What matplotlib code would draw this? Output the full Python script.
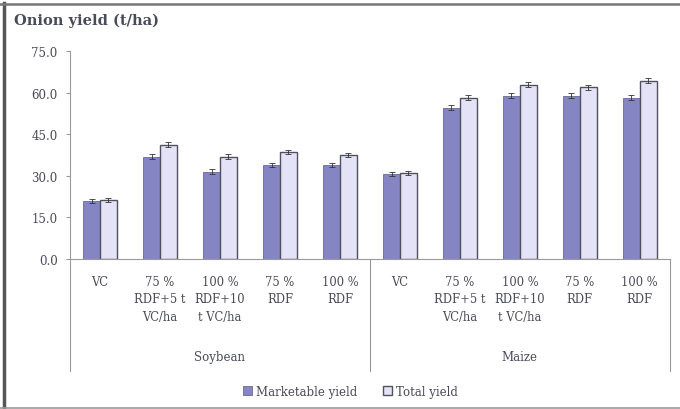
import numpy as np
import matplotlib
matplotlib.use("Agg")
import matplotlib.pyplot as plt
from matplotlib.lines import Line2D
from matplotlib.transforms import blended_transform_factory

# data
groups = ["Soybean", "Maize"]
treatments = ["VC", "75 %\nRDF+5 t\nVC/ha", "100 %\nRDF+10\nt VC/ha", "75 %\nRDF", "100 %\nRDF"]
marketable = [20.9, 36.8, 31.4, 33.9, 33.9, 30.7, 54.5, 58.8, 58.8, 58.1]
total = [21.3, 41.2, 36.8, 38.6, 37.5, 31.0, 58.1, 62.8, 62.0, 64.3]
marketable_err = [0.8, 0.9, 0.9, 0.8, 0.8, 0.7, 0.9, 0.9, 0.9, 0.9]
total_err = [0.8, 0.9, 0.9, 0.8, 0.8, 0.7, 0.9, 0.9, 0.9, 0.9]
y_ticks = [0, 15, 30, 45, 60, 75]

text_col = "#4a4a5a"
plt.rcParams['font.family'] = ['DejaVu Serif']

fig = plt.figure(figsize=(6.8, 4.1), dpi=100)
ax = fig.add_axes([0.103, 0.366, 0.882, 0.507])

n = len(marketable)
x = np.arange(n)
w = 0.28
ax.bar(x - w / 2, marketable, w, color="#8585c4", edgecolor="#6a6a9a", linewidth=0.6,
       yerr=marketable_err, capsize=2, error_kw=dict(ecolor="#333333", elinewidth=0.6, capthick=0.6),
       label="Marketable yield")
ax.bar(x + w / 2, total, w, color="#e4e2f6", edgecolor="#505060", linewidth=1.0,
       yerr=total_err, capsize=2, error_kw=dict(ecolor="#333333", elinewidth=0.6, capthick=0.6),
       label="Total yield")

ax.set_xlim(-0.5, n - 0.5)
ax.set_ylim(0, 75)
ax.set_yticks(y_ticks)
ax.set_yticklabels(["%.1f" % v for v in y_ticks], fontsize=8.5, color=text_col)
ax.set_xticks([])
for s in ["top", "right"]:
    ax.spines[s].set_visible(False)
ax.spines["left"].set_color("#999999")
ax.spines["bottom"].set_color("#999999")
ax.tick_params(axis="y", length=3, color="#999999", pad=6)

trans = blended_transform_factory(ax.transData, ax.transAxes)
per = len(treatments)
for i in range(n):
    ax.text(i, -0.075, treatments[i % per], transform=trans, ha="center", va="top",
            fontsize=8.3, color=text_col, linespacing=1.45)
for g, name in enumerate(groups):
    ax.text(g * per + (per - 1) / 2, -0.47, name, transform=trans, ha="center",
            va="center", fontsize=8.5, color=text_col)
for b in range(len(groups) + 1):
    ax.plot([b * per - 0.5] * 2, [0, -0.54], transform=trans, color="#999999",
            linewidth=0.8, clip_on=False)

fig.text(0.02, 0.95, "Onion yield (t/ha)", fontsize=10.5, fontweight="bold",
         color=text_col, va="center")
leg = fig.legend(loc="center", bbox_to_anchor=(0.515, 0.043), ncol=2, frameon=False,
                 fontsize=8.5, handlelength=0.8, handleheight=0.8, columnspacing=2.2,
                 handletextpad=0.3)
for t in leg.get_texts():
    t.set_color(text_col)

# outer frame: dark left edge, grey top and bottom
fig.lines.append(Line2D([0.006, 0.006], [0.0, 0.99], transform=fig.transFigure,
                        color="#555555", linewidth=2.5))
fig.lines.append(Line2D([0.0, 1.0], [0.988, 0.988], transform=fig.transFigure,
                        color="#777777", linewidth=1.8))
fig.lines.append(Line2D([0.0, 1.0], [0.003, 0.003], transform=fig.transFigure,
                        color="#999999", linewidth=1.2))

fig.savefig("out.png", dpi=100)
